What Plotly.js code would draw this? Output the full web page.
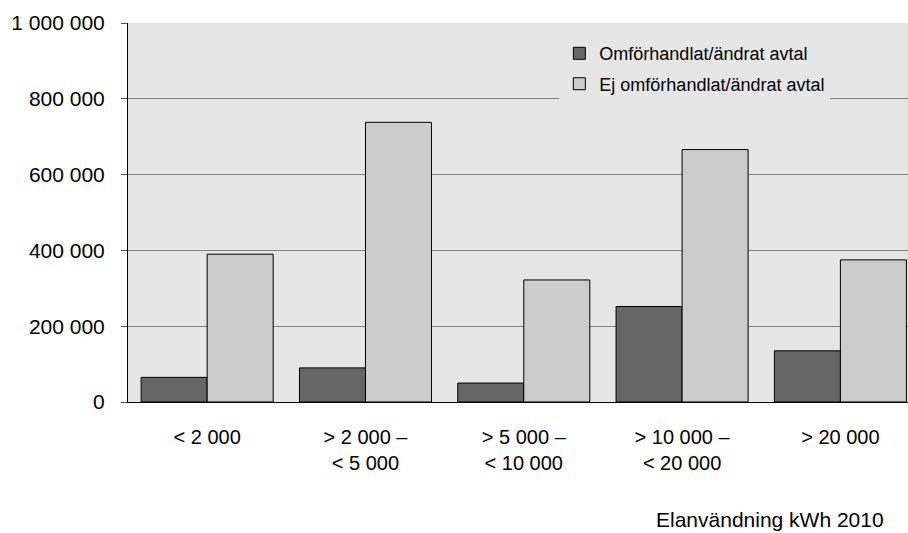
<!DOCTYPE html>
<html>
<head>
<meta charset="utf-8">
<script src="https://cdn.plot.ly/plotly-3.0.1.min.js"></script>
<style>html,body{margin:0;padding:0;background:#fff;}</style>
</head>
<body>
<div id="chart" style="width:908px;height:533px;"></div>
<script>
const categories = ["< 2 000", "> 2 000 –<br>< 5 000", "> 5 000 –<br>< 10 000", "> 10 000 –<br>< 20 000", "> 20 000"];
const seriesNames = ["Omförhandlat/ändrat avtal", "Ej omförhandlat/ändrat avtal"];
const renegotiated = [65000, 90000, 50000, 252000, 135000];
const notRenegotiated = [390000, 738000, 322000, 666000, 375000];
const yTicks = [0, 200000, 400000, 600000, 800000, 1000000];
const xTitle = "Elanvändning kWh 2010";

const font = "Liberation Sans, Arial, sans-serif";

const traces = [
  {type: "bar", name: seriesNames[0], x: categories, y: renegotiated, legendgroup: "a",
   marker: {color: "#666666", line: {color: "#000000", width: 1}}},
  {type: "bar", name: seriesNames[1], x: categories, y: notRenegotiated, legendgroup: "b",
   marker: {color: "#cccccc", line: {color: "#000000", width: 1}}}
];

const layout = {
  width: 908, height: 533,
  margin: {l: 128, r: 0, t: 23, b: 131, pad: 0},
  paper_bgcolor: "#ffffff",
  plot_bgcolor: "#e6e6e6",
  separators: ", ",
  font: {family: font, size: 20, color: "#000000"},
  barmode: "group",
  bargap: 0.166,
  bargroupgap: 0,
  showlegend: true,
  legend: {
    x: 0.553, xanchor: "left", y: 0.968, yanchor: "top",
    bgcolor: "#e6e6e6", borderwidth: 0,
    font: {family: font, size: 18, color: "#000000"},
    traceorder: "grouped", tracegroupgap: 4
  },
  xaxis: {
    type: "category",
    range: [-0.5, 4.427],
    showgrid: false, zeroline: false,
    showline: true, linecolor: "#000000", linewidth: 1,
    ticks: "", ticklabelstandoff: 17,
    tickfont: {family: font, size: 20, color: "#000000"},
    fixedrange: true
  },
  yaxis: {
    range: [0, 1000000],
    tickvals: yTicks,
    tickformat: ",d",
    showgrid: true, gridcolor: "#808080", gridwidth: 1,
    zeroline: false,
    showline: true, linecolor: "#000000", linewidth: 1,
    ticks: "outside", ticklen: 6, tickcolor: "#555555",
    ticklabelstandoff: 12,
    tickfont: {family: font, size: 21, color: "#000000"},
    fixedrange: true
  },
  annotations: [{
    text: xTitle, xref: "paper", yref: "paper",
    x: 0.9718, xanchor: "right", y: -0.311, yanchor: "middle",
    showarrow: false, font: {family: font, size: 21, color: "#000000"}
  }]
};

Plotly.newPlot("chart", traces, layout, {displayModeBar: false, staticPlot: true});
</script>
</body>
</html>
